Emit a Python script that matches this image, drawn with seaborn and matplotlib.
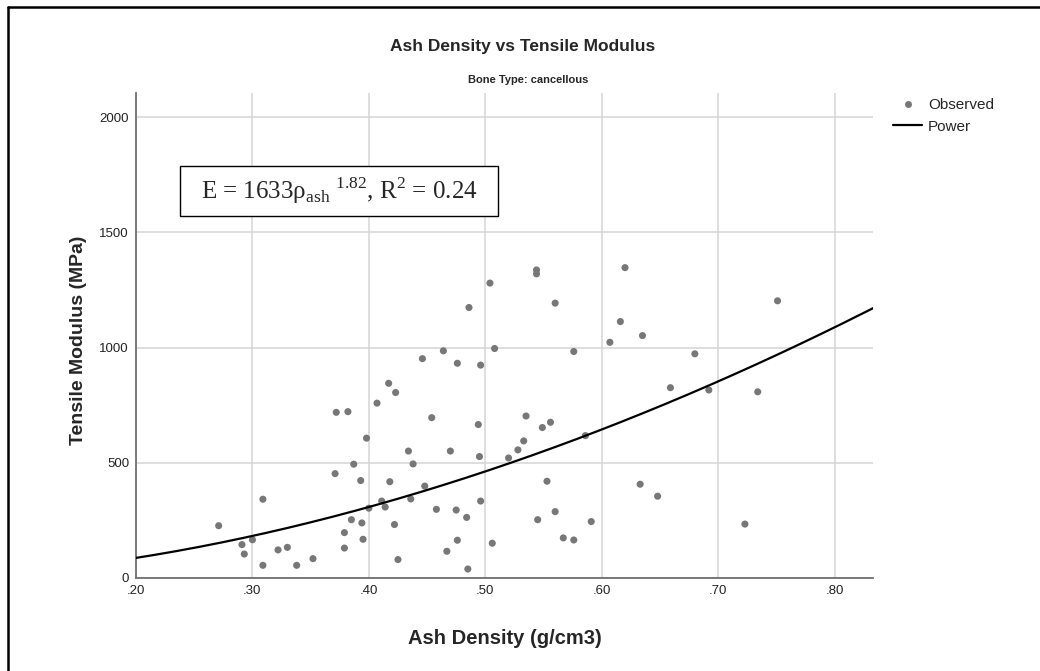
import numpy as np
import pandas as pd
import matplotlib
matplotlib.use("Agg")
import matplotlib.pyplot as plt
from matplotlib.lines import Line2D
from matplotlib.patches import Rectangle
import seaborn as sns

# observed points
ash_density = [0.271, 0.291, 0.293, 0.300, 0.309, 0.309, 0.322, 0.330, 0.338, 0.352,
               0.371, 0.372, 0.382, 0.379, 0.379, 0.385, 0.387, 0.393, 0.394, 0.395,
               0.398, 0.400, 0.407, 0.411, 0.414, 0.417, 0.418, 0.423, 0.422, 0.425,
               0.434, 0.436, 0.438, 0.446, 0.448, 0.454, 0.458, 0.464, 0.467, 0.470,
               0.476, 0.475, 0.476, 0.484, 0.485, 0.494, 0.495, 0.496, 0.496, 0.506,
               0.508, 0.486, 0.504, 0.544, 0.544, 0.560, 0.576, 0.535, 0.556, 0.549,
               0.533, 0.528, 0.520, 0.586, 0.553, 0.545, 0.560, 0.567, 0.576, 0.591,
               0.620, 0.616, 0.607, 0.635, 0.659, 0.680, 0.692, 0.633, 0.648, 0.723,
               0.734, 0.751]
tensile_modulus = [227, 145, 104, 166, 342, 55, 122, 133, 55, 84,
                   453, 719, 722, 197, 130, 253, 494, 423, 239, 168,
                   607, 303, 759, 334, 308, 845, 418, 805, 232, 80,
                   551, 343, 495, 952, 399, 696, 298, 986, 116, 551,
                   932, 295, 164, 263, 39, 666, 527, 924, 334, 151,
                   996, 1174, 1280, 1337, 1320, 1193, 983, 703, 676, 653,
                   595, 556, 521, 618, 420, 253, 288, 174, 165, 245,
                   1347, 1113, 1023, 1052, 826, 973, 816, 407, 355, 234,
                   808, 1203]

# power fit shown on the chart: E = a * rho^b
fit_a = 1633
fit_b = 1.82

x_ticks = [0.2, 0.3, 0.4, 0.5, 0.6, 0.7, 0.8]
x_ticklabels = [".20", ".30", ".40", ".50", ".60", ".70", ".80"]
y_ticks = [0, 500, 1000, 1500, 2000]

df = pd.DataFrame({"ash": ash_density, "E": tensile_modulus})
xs = np.linspace(0.2, 0.833, 200)
fit = pd.DataFrame({"ash": xs, "E": fit_a * xs ** fit_b})

sns.set_theme(style="white")
plt.rcParams["font.family"] = ["Liberation Sans", "DejaVu Sans"]
plt.rcParams["mathtext.fontset"] = "custom"
plt.rcParams["mathtext.rm"] = "Liberation Serif"

W, H = 1040, 671
fig = plt.figure(figsize=(10.4, 6.71), dpi=100)
ax = fig.add_axes([136 / W, 1 - 578 / H, 737 / W, 485 / H])

ax.set_xticks(x_ticks)
ax.set_yticks(y_ticks)
ax.grid(True, color="#d4d4d4", linewidth=1.1)
ax.set_axisbelow(True)

sns.scatterplot(data=df, x="ash", y="E", ax=ax, color="#777777", s=26,
                edgecolor="none", zorder=3)
sns.lineplot(data=fit, x="ash", y="E", ax=ax, color="black", linewidth=1.6,
             zorder=4)

ax.set_xlim(0.2, 0.833)
ax.set_ylim(0, 2105)
ax.set_xticklabels(x_ticklabels)
ax.tick_params(length=0, labelsize=9.5, colors="#222222")
ax.tick_params(axis="x", pad=5)
ax.tick_params(axis="y", pad=5)
for side in ["top", "right"]:
    ax.spines[side].set_visible(False)
for side in ["left", "bottom"]:
    ax.spines[side].set_color("#707070")
    ax.spines[side].set_linewidth(1.3)

ax.set_xlabel("Ash Density (g/cm3)", fontsize=14.5, fontweight="bold")
ax.set_ylabel("Tensile Modulus (MPa)", fontsize=14, fontweight="bold")
ax.xaxis.set_label_coords(0.5, -0.105)
ax.yaxis.set_label_coords(-0.066, 0.49)

fig.text(0.503, 1 - 47 / H, "Ash Density vs Tensile Modulus", ha="center",
         va="center", fontsize=12.5, fontweight="bold")
fig.text(0.508, 1 - 80 / H, "Bone Type: cancellous", ha="center",
         va="center", fontsize=8, fontweight="bold")

# equation box
fig.add_artist(Rectangle((180 / W, 1 - 216 / H), 318 / W, 50 / H,
                         transform=fig.transFigure, facecolor="white",
                         edgecolor="black", linewidth=1.0, zorder=5))
fig.text(339 / W, 1 - 191 / H,
         "E = 1633ρ$_{\\mathrm{ash}}$$^{\\ 1.82}$, R$^{2}$ = 0.24",
         ha="center", va="center", fontsize=18,
         family=["Liberation Serif", "DejaVu Serif"], zorder=6)

handles = [Line2D([], [], marker="o", linestyle="none", color="#777777",
                  markersize=5, markeredgewidth=0),
           Line2D([], [], color="black", linewidth=1.6)]
fig.legend(handles, ["Observed", "Power"], loc="upper left",
           bbox_to_anchor=(893 / W, 1 - 98 / H), frameon=False,
           fontsize=11, borderpad=0, borderaxespad=0, handlelength=1.9,
           handletextpad=0.4, labelspacing=0.5)

# frame lines of the original image (left and top)
fig.add_artist(Line2D([8 / W, 8 / W], [0, 1 - 7 / H], color="black",
                      linewidth=1.8, transform=fig.transFigure))
fig.add_artist(Line2D([8 / W, 1], [1 - 7 / H, 1 - 7 / H], color="black",
                      linewidth=1.8, transform=fig.transFigure))

fig.savefig("out.png", dpi=100)
